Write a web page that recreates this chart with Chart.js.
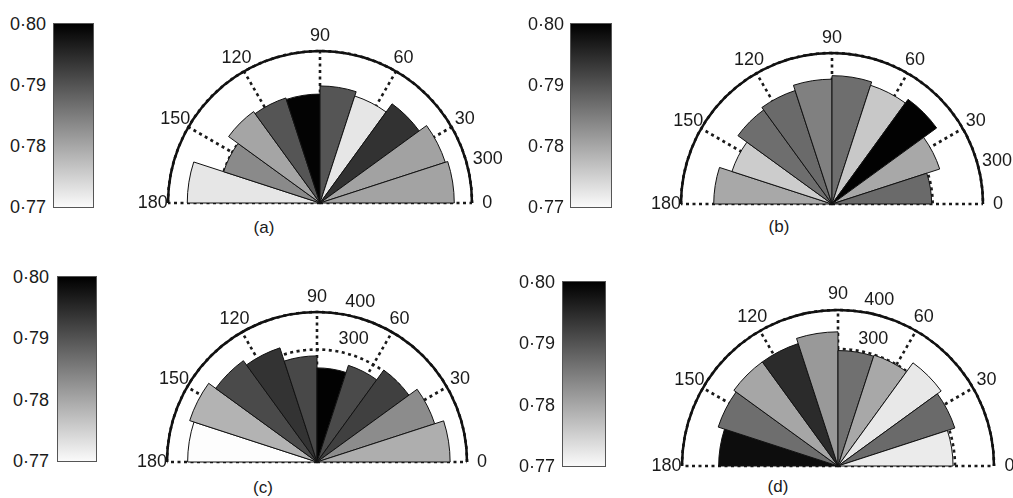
<!DOCTYPE html>
<html>
<head>
<meta charset="utf-8">
<script src="https://cdn.jsdelivr.net/npm/chart.js@4.4.1/dist/chart.umd.min.js"></script>
<style>
  html, body { margin: 0; padding: 0; background: #fff; }
  body { width: 1013px; height: 498px; position: relative; overflow: hidden;
         font-family: "Liberation Sans", Arial, sans-serif; color: #1a1a1a; }
  .rose { position: absolute; overflow: hidden; }
  .rose canvas { position: absolute; left: 0; top: 0; }
  .cbar { position: absolute; box-sizing: border-box; border: 1.5px solid #555;
          background: linear-gradient(to bottom, #000 0%, #fafafa 100%); }
  .cb-lbl { position: absolute; width: 48px; font-size: 18px; line-height: 18px;
            text-align: right; transform: translateY(-50%); }
  .cap { position: absolute; font-size: 17px; transform: translate(-50%, -50%); }
</style>
</head>
<body>
<script>
// ticks
const angleTicks = [0, 30, 60, 90, 120, 150, 180];
const colourTicks = ['0·80', '0·79', '0·78', '0·77'];
const sectors = ['0-18', '18-36', '36-54', '54-72', '72-90', '90-108', '108-126', '126-144', '144-162', '162-180'];

// sector lengths (radial value), from 0° round to 180°
const lenA = [265, 260, 242, 222, 231, 215, 218, 223, 200, 262];
const lenB = [198, 225, 257, 248, 255, 248, 237, 231, 209, 235];
const lenC = [355, 330, 303, 271, 251, 283, 320, 334, 357, 345];
const lenD = [295, 315, 327, 299, 296, 344, 330, 330, 323, 306];

// sector colour values (0.77 white .. 0.80 black)
const valA = [0.7808, 0.7810, 0.7941, 0.7729, 0.7900, 0.7996, 0.7900, 0.7806, 0.7838, 0.7730];
const valB = [0.7875, 0.7802, 0.7998, 0.7765, 0.7871, 0.7849, 0.7875, 0.7871, 0.7760, 0.7802];
const valC = [0.7795, 0.7835, 0.7925, 0.7913, 0.7998, 0.7915, 0.7940, 0.7913, 0.7789, 0.7702];
const valD = [0.7724, 0.7875, 0.7727, 0.7802, 0.7868, 0.7820, 0.7949, 0.7805, 0.7871, 0.7985];

// radial grid rings and the ones that carry a label
const ringsAB = [100, 200, 300];
const ringsCD = [100, 200, 300, 400];
const ringLabelsAB = [300];
const ringLabelsCD = [300, 400];

const FONT = '18px "Liberation Sans", Arial, sans-serif';

function grey(v) {
    const t = Math.min(1, Math.max(0, (0.80 - v) / 0.03));
    const g = Math.round(255 * t);
    return 'rgb(' + g + ',' + g + ',' + g + ')';
}

// plugin qui dessine la demi-grille polaire
const halfRose = {
    id: 'halfRose',
    beforeDatasetsDraw(chart, args, o) {
        const s = chart.scales.r;
        const ctx = chart.ctx;
        const x0 = s.xCenter, y0 = s.yCenter, R = s.drawingArea;
        ctx.save();
        ctx.strokeStyle = '#1a1a1a';
        ctx.lineWidth = 2.6;
        ctx.setLineDash([3, 3.5]);
        o.rings.forEach(v => {
            const r = s.getDistanceFromCenterForValue(v);
            ctx.beginPath();
            ctx.arc(x0, y0, r, Math.PI, 2 * Math.PI);
            ctx.stroke();
        });
        angleTicks.forEach(a => {
            const t = a * Math.PI / 180;
            ctx.beginPath();
            ctx.moveTo(x0, y0);
            ctx.lineTo(x0 + R * Math.cos(t), y0 - R * Math.sin(t));
            ctx.stroke();
        });
        ctx.setLineDash([]);
        ctx.fillStyle = '#1a1a1a';
        ctx.font = FONT;
        ctx.textAlign = 'left';
        ctx.textBaseline = 'middle';
        const la = o.labelAngle * Math.PI / 180;
        o.labelRings.forEach(v => {
            const r = s.getDistanceFromCenterForValue(v) + o.labelGap;
            ctx.fillText(String(v), x0 + r * Math.cos(la), y0 - r * Math.sin(la));
        });
        ctx.restore();
    },
    afterDatasetsDraw(chart, args, o) {
        const s = chart.scales.r;
        const ctx = chart.ctx;
        const x0 = s.xCenter, y0 = s.yCenter, R = s.drawingArea;
        ctx.save();
        ctx.strokeStyle = '#111';
        ctx.lineWidth = 2.5;
        ctx.beginPath();
        ctx.arc(x0, y0, R, Math.PI, 2 * Math.PI);
        ctx.stroke();
        ctx.fillStyle = '#1a1a1a';
        ctx.font = FONT;
        ctx.textAlign = 'center';
        ctx.textBaseline = 'middle';
        angleTicks.forEach(a => {
            const t = a * Math.PI / 180;
            ctx.fillText(String(a), x0 + 1.1 * R * Math.cos(t), y0 - 1.1 * R * Math.sin(t));
        });
        ctx.restore();
    }
};

const panels = [
    { len: lenA, val: valA, max: 300, rings: ringsAB, labelRings: ringLabelsAB, labelAngle: 16, labelGap: 7,
      cx: 320, cy: 203, R: 152, bar: [53, 23, 41, 185], lblRight: 46, cap: '(a)', capPos: [264, 228] },
    { len: lenB, val: valB, max: 300, rings: ringsAB, labelRings: ringLabelsAB, labelAngle: 16, labelGap: 5,
      cx: 832, cy: 204, R: 151, bar: [570, 23, 42, 185], lblRight: 564, cap: '(b)', capPos: [779, 227] },
    { len: lenC, val: valC, max: 400, rings: ringsCD, labelRings: ringLabelsCD, labelAngle: 80, labelGap: 12,
      cx: 317, cy: 462, R: 150, bar: [57, 276, 40, 186], lblRight: 49, cap: '(c)', capPos: [263, 488] },
    { len: lenD, val: valD, max: 400, rings: ringsCD, labelRings: ringLabelsCD, labelAngle: 81, labelGap: 12,
      cx: 838, cy: 466, R: 156, bar: [562, 281, 44, 186], lblRight: 555, cap: '(d)', capPos: [778, 487] }
];

const PAD = 50;

panels.forEach(p => {
    const S = 2 * p.R + 2 * PAD;

    // colour bar
    const bar = document.createElement('div');
    bar.className = 'cbar';
    bar.style.left = p.bar[0] + 'px';
    bar.style.top = p.bar[1] + 'px';
    bar.style.width = p.bar[2] + 'px';
    bar.style.height = p.bar[3] + 'px';
    document.body.appendChild(bar);
    colourTicks.forEach((t, i) => {
        const l = document.createElement('div');
        l.className = 'cb-lbl';
        l.textContent = t;
        l.style.left = (p.lblRight - 48) + 'px';
        l.style.top = (p.bar[1] + 1 + i * (p.bar[3] - 2) / (colourTicks.length - 1)) + 'px';
        document.body.appendChild(l);
    });

    // caption
    const cap = document.createElement('div');
    cap.className = 'cap';
    cap.textContent = p.cap;
    cap.style.left = p.capPos[0] + 'px';
    cap.style.top = p.capPos[1] + 'px';
    document.body.appendChild(cap);

    // rose
    const box = document.createElement('div');
    box.className = 'rose';
    box.style.left = (p.cx - S / 2) + 'px';
    box.style.top = (p.cy - S / 2) + 'px';
    box.style.width = S + 'px';
    box.style.height = (S / 2 + 14) + 'px';
    const canvas = document.createElement('canvas');
    canvas.width = S;
    canvas.height = S;
    box.appendChild(canvas);
    document.body.appendChild(box);

    const step = 180 / p.len.length;
    const n = p.len.length;

    new Chart(canvas, {
        type: 'polarArea',
        data: {
            labels: sectors.slice().reverse().concat(''),
            datasets: [{
                data: p.len.slice().reverse().concat(0),
                backgroundColor: p.val.slice().reverse().map(grey).concat('rgba(0,0,0,0)'),
                borderColor: '#111',
                borderWidth: ctx => ctx.dataIndex < n ? 1 : 0,
                angle: ctx => ctx.dataIndex < n ? step : 180
            }]
        },
        options: {
            responsive: false,
            animation: false,
            layout: { padding: PAD },
            plugins: {
                legend: { display: false },
                tooltip: { enabled: false },
                halfRose: { rings: p.rings, labelRings: p.labelRings, labelAngle: p.labelAngle, labelGap: p.labelGap }
            },
            scales: {
                r: {
                    min: 0,
                    max: p.max,
                    startAngle: 270,
                    ticks: { display: false },
                    grid: { display: false },
                    angleLines: { display: false },
                    pointLabels: { display: false }
                }
            }
        },
        plugins: [halfRose]
    });
});
</script>
</body>
</html>
